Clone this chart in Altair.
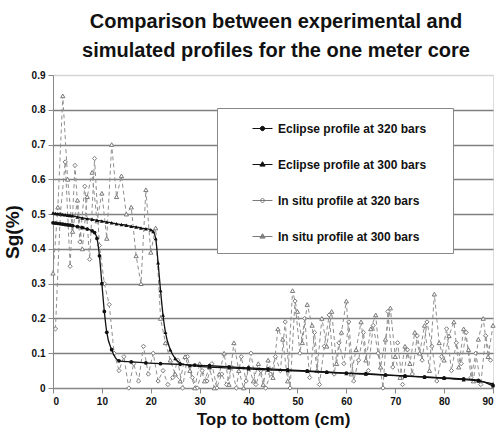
import altair as alt
import pandas as pd

FONT = "Liberation Sans, Arial, sans-serif"

series_names = [
    "Eclipse profile at 320 bars",
    "Eclipse profile at 300 bars",
    "In situ profile at 320 bars",
    "In situ profile at 300 bars",
]

# Eclipse simulated profile, 320 bars
ecl320_x = [0, 0.5, 1, 1.5, 2, 2.5, 3, 3.5, 4, 5, 6, 7, 8, 8.5, 9, 9.5, 10, 10.5, 11, 12,
            13.5, 16, 19, 22, 26, 29, 32, 36, 40, 44, 48, 52, 56, 60, 64, 68, 72, 76, 80,
            84, 87, 90]
ecl320_y = [0.475, 0.474, 0.473, 0.472, 0.471, 0.470, 0.469, 0.468, 0.467, 0.464, 0.461,
            0.457, 0.452, 0.447, 0.43, 0.38, 0.30, 0.22, 0.16, 0.11, 0.078, 0.075, 0.072,
            0.070, 0.068, 0.066, 0.064, 0.061, 0.058, 0.055, 0.052, 0.049, 0.046, 0.043,
            0.041, 0.038, 0.035, 0.032, 0.029, 0.026, 0.022, 0.006]

# Eclipse simulated profile, 300 bars
ecl300_x = [0, 0.5, 1, 1.5, 2, 2.5, 3, 3.5, 4, 5, 6, 7, 8, 9, 10, 11, 12, 13, 14, 15, 16,
            17, 18, 19, 20, 20.5, 21, 21.5, 22, 22.5, 23, 24, 25, 26, 28, 32, 36, 40, 44,
            48, 52, 56, 60, 64, 68, 72, 76, 80, 84, 87, 90]
ecl300_y = [0.503, 0.502, 0.501, 0.500, 0.499, 0.498, 0.497, 0.496, 0.495, 0.492, 0.489,
            0.487, 0.485, 0.482, 0.480, 0.477, 0.475, 0.472, 0.470, 0.468, 0.465, 0.463,
            0.460, 0.458, 0.455, 0.450, 0.430, 0.360, 0.280, 0.210, 0.160, 0.110, 0.085,
            0.072, 0.065, 0.060, 0.058, 0.055, 0.052, 0.050, 0.048, 0.045, 0.042, 0.040,
            0.037, 0.034, 0.031, 0.028, 0.024, 0.020, 0.012]

# In situ measured profile, 320 bars
situ320_x = [0.5, 1.5, 2.5, 3.5, 4.5, 5.5, 6.5, 7.5, 8.5, 9.5, 10.5, 11.5, 12.5, 13.5, 14.5,
             15.5, 16.5, 17.5, 18.5, 19.5, 20.5, 21.5, 22.5, 23.5, 24.5, 25.5, 26.5, 27.5,
             28.5, 29.5, 30.5, 31.5, 32.5, 33.5, 34.5, 35.5, 36.5, 37.5, 38.5, 39.5, 40.5,
             41.5, 42.5, 43.5, 44.5, 45.5, 46.5, 47.5, 48.5, 49.5, 50.5, 51.5, 52.5, 53.5,
             54.5, 55.5, 56.5, 57.5, 58.5, 59.5, 60.5, 61.5, 62.5, 63.5, 64.5, 65.5, 66.5,
             67.5, 68.5, 69.5, 70.5, 71.5, 72.5, 73.5, 74.5, 75.5, 76.5, 77.5, 78.5, 79.5,
             80.5, 81.5, 82.5, 83.5, 84.5, 85.5, 86.5, 87.5, 88.5, 89.5]
situ320_y = [0.17, 0.50, 0.65, 0.35, 0.64, 0.42, 0.58, 0.37, 0.66, 0.41, 0.30, 0.24, 0.10,
             0.05, 0.09, 0.00, 0.07, 0.02, 0.12, 0.04, 0.10, 0.02, 0.05, 0.01, 0.03, 0.08,
             0.00, 0.09, 0.03, 0.00, 0.05, 0.02, 0.07, 0.00, 0.04, 0.01, 0.06, 0.00, 0.09,
             0.02, 0.10, 0.01, 0.05, 0.00, 0.04, 0.09, 0.05, 0.19, 0.00, 0.25, 0.10, 0.20,
             0.03, 0.16, 0.01, 0.12, 0.21, 0.04, 0.13, 0.07, 0.19, 0.02, 0.08, 0.16, 0.05,
             0.18, 0.10, 0.00, 0.22, 0.06, 0.13, 0.01, 0.11, 0.04, 0.15, 0.08, 0.19, 0.12,
             0.02, 0.09, 0.17, 0.05, 0.13, 0.07, 0.16, 0.03, 0.10, 0.01, 0.15, 0.08]

# In situ measured profile, 300 bars
situ300_x = list(range(0, 91))
situ300_y = [0.33, 0.52, 0.84, 0.60, 0.45, 0.54, 0.40, 0.55, 0.62, 0.48, 0.56, 0.43, 0.70,
             0.55, 0.61, 0.50, 0.52, 0.38, 0.30, 0.57, 0.39, 0.46, 0.20, 0.13, 0.08, 0.04,
             0.02, 0.09, 0.05, 0.00, 0.07, 0.02, 0.06, 0.00, 0.04, 0.10, 0.01, 0.13, 0.05,
             0.00, 0.06, 0.02, 0.07, 0.01, 0.08, 0.03, 0.17, 0.14, 0.02, 0.28, 0.22, 0.13,
             0.24, 0.18, 0.05, 0.20, 0.12, 0.22, 0.07, 0.16, 0.25, 0.04, 0.11, 0.19, 0.08,
             0.17, 0.21, 0.06, 0.14, 0.23, 0.09, 0.03, 0.12, 0.07, 0.16, 0.10, 0.18, 0.05,
             0.27, 0.13, 0.08, 0.15, 0.19, 0.06, 0.17, 0.11, 0.02, 0.14, 0.20, 0.09, 0.18]

x_ticks = [0, 10, 20, 30, 40, 50, 60, 70, 80, 90]
y_ticks = [0, 0.1, 0.2, 0.3, 0.4, 0.5, 0.6, 0.7, 0.8, 0.9]

rows = []
for name, xs, ys in zip(series_names,
                        [ecl320_x, ecl300_x, situ320_x, situ300_x],
                        [ecl320_y, ecl300_y, situ320_y, situ300_y]):
    for i, (xv, yv) in enumerate(zip(xs, ys)):
        rows.append({"series": name, "x": xv, "y": yv, "i": i})
df = pd.DataFrame(rows)

x_enc = alt.X("x:Q", scale=alt.Scale(domain=[0, 90], nice=False),
              axis=alt.Axis(values=x_ticks, title="Top to bottom (cm)", grid=False,
                            labelFont=FONT, labelFontWeight="bold", labelFontSize=10,
                            labelColor="#111", titleFont=FONT, titleFontSize=17,
                            titleFontWeight="bold", titleColor="#111", titlePadding=5,
                            domainColor="#888", tickColor="#888", tickSize=5,
                            labelPadding=3))
y_enc = alt.Y("y:Q", scale=alt.Scale(domain=[0, 0.9], nice=False),
              axis=alt.Axis(values=y_ticks, title="Sg(%)", grid=True,
                            gridColor=alt.condition("datum.value > 0.85",
                                                    alt.value("#d4d4d4"),
                                                    alt.value("#808080")),
                            gridWidth=1.4,
                            labelExpr="datum.value == 0 ? '0' : format(datum.value, '.1f')",
                            labelFont=FONT, labelFontWeight="bold", labelFontSize=10,
                            labelColor="#111", titleFont=FONT, titleFontSize=19,
                            titleFontWeight="bold", titleColor="#111", titlePadding=9,
                            domainColor="#888", tickColor="#888", tickSize=5,
                            labelPadding=3))

base = alt.Chart(df)


def sel(name):
    return base.transform_filter(alt.datum.series == name)


layers = []
# in situ series (dashed gray)
for name, shp in [(series_names[2], "diamond"), (series_names[3], "triangle-up")]:
    layers.append(sel(name).mark_line(color="#8f8f8f", strokeWidth=1,
                                      strokeDash=[4, 3]).encode(x=x_enc, y=y_enc, order="i:Q"))
    layers.append(sel(name).mark_point(shape=shp, size=18, filled=True, fill="white",
                                       stroke="#7a7a7a", strokeWidth=1, opacity=1)
                  .encode(x=x_enc, y=y_enc))
# eclipse series (black)
for name, shp, sz in [(series_names[0], "circle", 14),
                      (series_names[1], "triangle-up", 16)]:
    layers.append(sel(name).mark_line(color="#111", strokeWidth=1.3,
                                      interpolate="monotone").encode(x=x_enc, y=y_enc,
                                                                     order="i:Q"))
    layers.append(sel(name).mark_point(shape=shp, size=sz, filled=True, color="#111",
                                       opacity=1).encode(x=x_enc, y=y_enc))

# legend-only layer (no data drawn)
legend_paths = [
    "M-1,0H1M-0.22,0A0.22,0.22,0,1,0,0.22,0A0.22,0.22,0,1,0,-0.22,0Z",
    "M-1,0H1M0,-0.28L0.26,0.16L-0.26,0.16Z",
    "M-1,0H1M0,-0.25L0.25,0L0,0.25L-0.25,0Z",
    "M-1,0H1M0,-0.28L0.26,0.16L-0.26,0.16Z",
]
leg = alt.Legend(title=".", titleOrient="right", titleOpacity=0, titlePadding=14,
                 titleFontSize=8,
                 orient="none", legendX=164, legendY=33,
                 strokeColor="#888", fillColor="white", padding=10,
                 symbolSize=400, symbolStrokeWidth=1, symbolOffset=25,
                 rowPadding=19, labelOffset=5, labelFont=FONT, labelFontSize=12,
                 labelFontWeight="bold", labelColor="#111", labelLimit=400)
legend_layer = base.transform_filter("datum.y > 5").mark_point(opacity=1).encode(
    x=x_enc, y=y_enc,
    shape=alt.Shape("series:N", scale=alt.Scale(domain=series_names, range=legend_paths),
                    legend=leg),
    stroke=alt.Stroke("series:N", scale=alt.Scale(domain=series_names,
                                                  range=["#111", "#111", "#7a7a7a", "#7a7a7a"]),
                      legend=leg),
    fill=alt.Fill("series:N", scale=alt.Scale(domain=series_names,
                                              range=["#111", "#111", "white", "#8a8a8a"]),
                  legend=leg),
)
layers.append(legend_layer)

chart = alt.layer(*layers).properties(
    width=440, height=313,
    autosize=alt.AutoSizeParams(type="none"),
    padding={"left": 53, "top": 75, "right": 7, "bottom": 52},
    title=alt.TitleParams(["Comparison between experimental and",
                           "simulated profiles for the one meter core"],
                          font=FONT, fontSize=20, fontWeight="bold", color="#111",
                          lineHeight=29, anchor="middle", offset=9, dx=3),
).configure_view(stroke="#d4d4d4", strokeWidth=1).configure(background="white")

chart.save("out.html", embed_options={"renderer": "svg", "actions": False})
